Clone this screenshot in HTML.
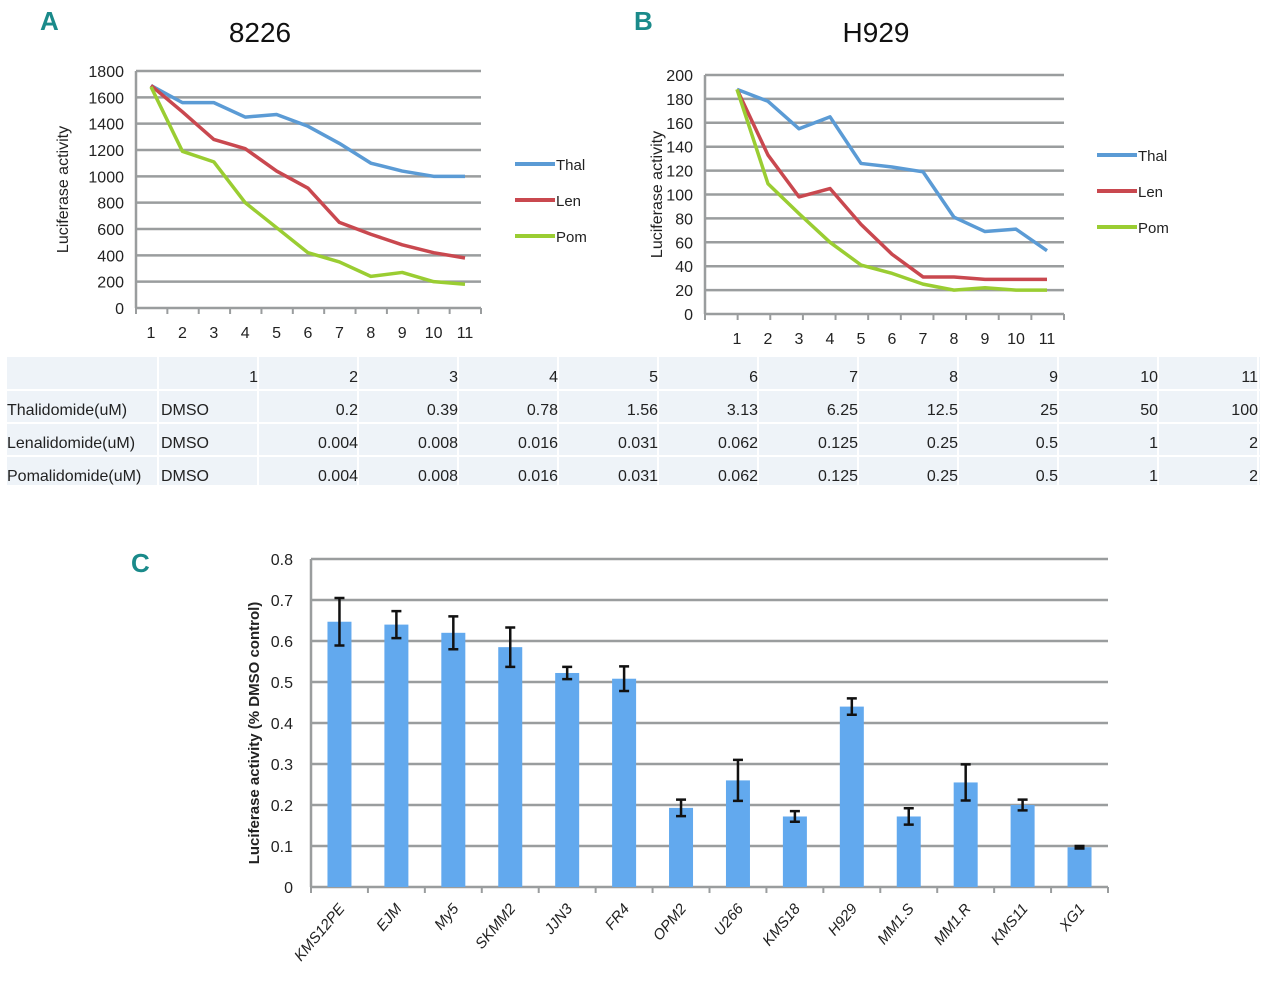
<!DOCTYPE html>
<html><head><meta charset="utf-8"><style>
html,body{margin:0;padding:0;background:#fff;}
svg text{font-family:"Liberation Sans",sans-serif;}
</style></head><body>
<svg id="fig" width="1280" height="976" viewBox="0 0 1280 976" xmlns="http://www.w3.org/2000/svg">
<g id="gA"></g>
<g id="gB"></g>
<g id="gT"></g>
<g id="gC"></g>
</svg>
<script>
const xCats = [1,2,3,4,5,6,7,8,9,10,11];
const aThal = [1690,1560,1560,1450,1470,1380,1250,1100,1040,1000,1000];
const aLen  = [1690,1490,1280,1210,1040,910,650,560,480,420,380];
const aPom  = [1680,1190,1110,800,610,420,350,240,270,200,180];
const aTicks = [0,200,400,600,800,1000,1200,1400,1600,1800];
const bThal = [188,178,155,165,126,123,119,81,69,71,53];
const bLen  = [188,133,98,105,75,50,31,31,29,29,29];
const bPom  = [188,109,84,60,41,34,25,20,22,20,20];
const bTicks = [0,20,40,60,80,100,120,140,160,180,200];
const seriesNames = ["Thal","Len","Pom"];
const tableHeader = ["","","1","2","3","4","5","6","7","8","9","10","11"];
const tableThal = ["Thalidomide(uM)","DMSO","","0.2","0.39","0.78","1.56","3.13","6.25","12.5","25","50","100"];
const tableLen = ["Lenalidomide(uM)","DMSO","","0.004","0.008","0.016","0.031","0.062","0.125","0.25","0.5","1","2"];
const tablePom = ["Pomalidomide(uM)","DMSO","","0.004","0.008","0.016","0.031","0.062","0.125","0.25","0.5","1","2"];
const cCats = ["KMS12PE","EJM","My5","SKMM2","JJN3","FR4","OPM2","U266","KMS18","H929","MM1.S","MM1.R","KMS11","XG1"];
const cVals = [0.647,0.64,0.62,0.585,0.522,0.508,0.193,0.26,0.172,0.44,0.172,0.255,0.2,0.097];
const cErr  = [0.058,0.033,0.04,0.048,0.015,0.03,0.02,0.05,0.013,0.02,0.02,0.044,0.013,0.003];
const cTicks = [0,0.1,0.2,0.3,0.4,0.5,0.6,0.7,0.8];

const NS="http://www.w3.org/2000/svg";
function mk(parent,tag,attrs,txt){const e=document.createElementNS(NS,tag);for(const k in attrs)e.setAttribute(k,attrs[k]);if(txt!==undefined)e.textContent=txt;parent.appendChild(e);return e;}
const colors=["#5b9bd5","#c9484f","#9acd32"];
const GRID="#9a9d9e";

function lineChart(g,cfg,series,ticks){
  const {x0,x1,yB,yT,max,px1,px11,legX,legY,title,titleX,letter,letterX,ylabX}=cfg;
  const ys=v=>yB-(v/max)*(yB-yT);
  const xs=i=>px1+i*(px11-px1)/10;
  let t=mk(g,'text',{x:letterX,y:30,'font-size':26,'font-weight':'bold',fill:'#1a8a8a'},letter);
  
  t=mk(g,'text',{x:titleX,y:42,'font-size':28,'text-anchor':'middle',fill:'#111'},title);
  
  ticks.forEach(v=>{
    const l=mk(g,'line',{x1:x0,x2:x1,y1:ys(v),y2:ys(v),stroke:GRID,'stroke-width':2.5});
    
    const tt=mk(g,'text',{x:x0-12,y:ys(v)+6,'font-size':16,'text-anchor':'end',fill:'#222'},v);
    
  });
  mk(g,'line',{x1:x0,x2:x0,y1:yT,y2:yB,stroke:GRID,'stroke-width':2.5});
  for(let i=0;i<=11;i++){const xx=x0+i*(x1-x0)/11;mk(g,'line',{x1:xx,x2:xx,y1:yB,y2:yB+6,stroke:GRID,'stroke-width':2});}
  xCats.forEach((c,i)=>{const tt=mk(g,'text',{x:xs(i),y:yB+30,'font-size':16,'text-anchor':'middle',fill:'#222'},c);
    });
  const yl=mk(g,'text',{x:0,y:0,'font-size':16,'text-anchor':'middle',fill:'#222',transform:`translate(${ylabX},${(yB+yT)/2}) rotate(-90)`},'Luciferase activity');
  
  series.forEach((s,si)=>{
    const p=mk(g,'polyline',{points:s.map((v,i)=>xs(i)+','+ys(v)).join(' '),fill:'none',stroke:colors[si],'stroke-width':3.5,'stroke-linejoin':'round'});
    
    const ly=legY+si*36;
    const le=mk(g,'line',{x1:legX,x2:legX+40,y1:ly,y2:ly,stroke:colors[si],'stroke-width':4});
    
    const lt=mk(g,'text',{x:legX+41,y:ly+6,'font-size':15,fill:'#222'},seriesNames[si]);
    
  });
}
lineChart(document.getElementById('gA'),{x0:136,x1:481,yB:308,yT:71,max:1800,px1:151,px11:465,legX:515,legY:164,title:'8226',titleX:260,letter:'A',letterX:40,ylabX:68},[aThal,aLen,aPom],aTicks);
lineChart(document.getElementById('gB'),{x0:705,x1:1064,yB:314,yT:75,max:200,px1:737,px11:1047,legX:1097,legY:155,title:'H929',titleX:876,letter:'B',letterX:634,ylabX:662},[bThal,bLen,bPom],bTicks);

(function(){
  const g=document.getElementById('gT');
  mk(g,'rect',{x:6,y:356,width:1254,height:130,fill:'#eef3f8'});
  const colX=[6,158,258,358,458,558,658,758,858,958,1058,1158,1258];
  const rowY=[356,390,423,456,486];
  rowY.forEach(y=>mk(g,'line',{x1:6,x2:1260,y1:y,y2:y,stroke:'#fff','stroke-width':2}));
  colX.forEach(x=>mk(g,'line',{x1:x,x2:x,y1:356,y2:486,stroke:'#fff','stroke-width':2}));
  [tableHeader,tableThal,tableLen,tablePom].forEach((row,ri)=>{
    row.forEach((v,ci)=>{
      if(v==='')return;
      let x,anchor;
      if(ci===0){x=7;anchor='start';}else if(ci===1){x=161;anchor='start';}
      else{x=colX[ci];anchor='end';}
      const tt=mk(g,'text',{x:x,y:382+ri*33,'font-size':16,'text-anchor':anchor,fill:'#222'},v);
      
    });
  });
})();

(function(){
  const g=document.getElementById('gC');
  const x0=311,x1=1108,yB=887,yT=559,max=0.8;
  const ys=v=>yB-(v/max)*(yB-yT);
  const step=(x1-x0)/cCats.length;
  const xc=i=>x0+step*(i+0.5);
  let t=mk(g,'text',{x:131,y:572,'font-size':26,'font-weight':'bold',fill:'#1a8a8a'},'C');
  
  cTicks.forEach(v=>{
    if(v>0){const l=mk(g,'line',{x1:x0,x2:x1,y1:ys(v),y2:ys(v),stroke:GRID,'stroke-width':2.5});
    }
    const tt=mk(g,'text',{x:x0-18,y:ys(v)+6,'font-size':16,'text-anchor':'end',fill:'#222'},v);
    
  });
  mk(g,'line',{x1:x0,x2:x0,y1:yT,y2:yB,stroke:GRID,'stroke-width':2.5});
  mk(g,'line',{x1:x0,x2:x1,y1:yB,y2:yB,stroke:GRID,'stroke-width':2.5});
  for(let i=0;i<=cCats.length;i++){const xx=x0+i*step;mk(g,'line',{x1:xx,x2:xx,y1:yB,y2:yB+6,stroke:GRID,'stroke-width':2});}
  const yl=mk(g,'text',{x:0,y:0,'font-size':15,'font-weight':'bold','text-anchor':'middle',fill:'#222',transform:`translate(259,${(yB+yT)/2+10}) rotate(-90)`},'Luciferase activity (% DMSO control)');
  
  cCats.forEach((c,i)=>{
    const b=mk(g,'rect',{x:xc(i)-12,y:ys(cVals[i]),width:24,height:yB-ys(cVals[i]),fill:'#62a9ee'});
    
    const hi=ys(cVals[i]+cErr[i]),lo=ys(cVals[i]-cErr[i]);
    const e=mk(g,'path',{d:`M${xc(i)},${hi}V${lo}M${xc(i)-5},${hi}H${xc(i)+5}M${xc(i)-5},${lo}H${xc(i)+5}`,stroke:'#111','stroke-width':2.5,fill:'none'});
    
    const tt=mk(g,'text',{x:0,y:0,'font-size':15,'font-style':'italic','text-anchor':'end',fill:'#222',transform:`translate(${xc(i)+6},${yB+22}) rotate(-50)`},c);
    
  });
})();
</script>
</body></html>
